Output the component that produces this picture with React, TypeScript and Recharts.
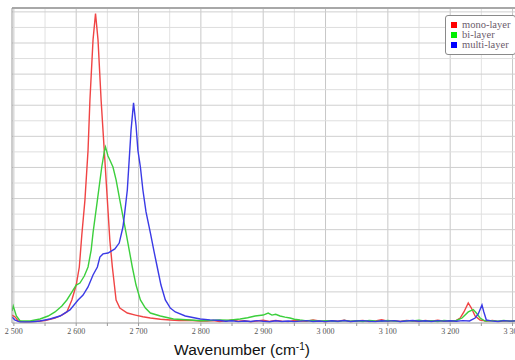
import { LineChart, Line, XAxis, YAxis, CartesianGrid, ReferenceLine, Label } from 'recharts';

// Raman spectra: [wavenumber (cm-1), intensity (a.u.)]
const mono: [number, number][] = [
  [2497, 5.1], [2502, 3.9], [2507, 1.3], [2518, 0.6], [2534, 1.0], [2550, 1.6], [2566, 3.2],
  [2577, 5.1], [2585, 7.1], [2593, 14.8], [2600, 24.4], [2605, 36], [2609, 56.6], [2614, 79],
  [2619, 111], [2622, 143], [2627, 182], [2631, 199], [2635, 182], [2640, 143], [2645, 111],
  [2650, 79], [2654, 53], [2658, 36], [2664, 14.8], [2670, 9.6], [2682, 6.4], [2695, 5.1],
  [2707, 4.0], [2719, 3.2], [2735, 2.4], [2751, 1.9], [2765, 1.5], [2780, 1.8], [2799, 1.3],
  [2810, 1.2], [2820, 1.6], [2830, 0.9], [2840, 1.4], [2850, 2.0], [2860, 1.1], [2870, 1.5],
  [2880, 0.8], [2890, 1.3], [2900, 1.8], [2910, 1.0], [2920, 1.6], [2930, 1.2], [2940, 0.9],
  [2950, 1.7], [2960, 1.3], [2970, 1.1], [2980, 1.9], [2990, 1.4], [3000, 0.8], [3010, 1.5],
  [3020, 1.2], [3030, 1.8], [3040, 1.0], [3050, 1.3], [3060, 1.6], [3070, 0.9], [3080, 1.4],
  [3090, 2.1], [3100, 1.2], [3110, 1.5], [3120, 1.0], [3130, 1.7], [3140, 1.3], [3150, 0.9],
  [3160, 1.6], [3170, 1.2], [3180, 1.8], [3190, 1.1], [3200, 1.4], [3208, 1.3], [3216, 3.2],
  [3222, 7.1], [3229, 12.9], [3234, 9.6], [3240, 4.5], [3248, 1.9], [3258, 1.2], [3268, 1.6],
  [3278, 0.9], [3288, 1.4], [3298, 1.1], [3308, 1.5], [3312, 1.2],
];

const bi: [number, number][] = [
  [2497, 7.7], [2499, 10.9], [2504, 4.5], [2510, 1.3], [2526, 1.3], [2542, 2.6], [2555, 4.5],
  [2566, 7.1], [2577, 10.9], [2585, 14.8], [2593, 19.9], [2600, 24.4], [2606, 25.7], [2613, 30.2],
  [2619, 36], [2624, 46.9], [2627, 57.9], [2634, 79], [2641, 100.3], [2645, 110], [2647, 113.2],
  [2651, 107.4], [2654, 104.8], [2659, 100.3], [2664, 92], [2670, 79], [2680, 57.9], [2690, 36],
  [2696, 24.4], [2703, 14.8], [2711, 9.6], [2719, 6.4], [2735, 4.5], [2756, 2.6], [2783, 1.9],
  [2800, 1.4], [2815, 1.6], [2830, 2.0], [2845, 1.8], [2863, 2.6], [2875, 3.4], [2887, 4.5],
  [2900, 5.1], [2908, 6.4], [2914, 5.1], [2920, 5.6], [2927, 4.5], [2935, 3.8], [2943, 3.2],
  [2950, 2.4], [2959, 1.9], [2970, 1.4], [2980, 1.7], [2990, 1.1], [3000, 1.5], [3010, 1.3],
  [3020, 0.9], [3030, 1.6], [3040, 1.2], [3050, 1.4], [3060, 1.0], [3070, 1.7], [3080, 1.3],
  [3090, 1.1], [3100, 1.6], [3110, 1.2], [3120, 0.9], [3130, 1.5], [3140, 1.3], [3150, 1.8],
  [3160, 1.1], [3170, 1.4], [3180, 1.0], [3190, 1.6], [3200, 1.3], [3210, 1.6], [3219, 3.2],
  [3229, 7.1], [3237, 8.6], [3242, 6.4], [3248, 3.2], [3256, 1.3], [3266, 1.5], [3276, 1.1],
  [3286, 1.6], [3296, 1.2], [3306, 1.4], [3312, 1.3],
];

const multi: [number, number][] = [
  [2497, 3.9], [2502, 1.9], [2510, 0.6], [2526, 0.6], [2542, 1.3], [2558, 2.6], [2574, 4.5],
  [2590, 8.4], [2603, 14.8], [2611, 18], [2619, 23.2], [2627, 30.9], [2634, 36], [2638, 42.4],
  [2643, 44.4], [2651, 45], [2662, 47.6], [2669, 51.4], [2675, 61.7], [2678, 71.4], [2682, 85.5],
  [2685, 104.8], [2688, 124], [2692, 141.5], [2696, 127], [2699, 111], [2703, 100.3], [2707, 85.5],
  [2712, 71.4], [2719, 57.9], [2725, 45.7], [2730, 36], [2736, 24.4], [2743, 14.8], [2751, 9.6],
  [2759, 7.1], [2775, 4.5], [2799, 2.6], [2815, 2.0], [2831, 1.6], [2840, 1.1], [2850, 1.4],
  [2860, 0.9], [2870, 1.3], [2880, 1.0], [2890, 1.5], [2900, 1.1], [2910, 0.8], [2920, 1.4],
  [2930, 1.0], [2940, 1.3], [2950, 0.9], [2960, 1.2], [2970, 1.5], [2980, 1.0], [2990, 1.3],
  [3000, 0.9], [3010, 1.4], [3020, 1.1], [3030, 1.6], [3040, 1.0], [3050, 1.3], [3060, 1.5],
  [3070, 1.1], [3080, 0.9], [3090, 1.4], [3100, 1.2], [3110, 1.5], [3120, 1.0], [3130, 1.3],
  [3140, 1.6], [3150, 1.1], [3160, 1.4], [3170, 1.0], [3180, 1.5], [3190, 1.2], [3200, 1.4],
  [3210, 1.1], [3220, 1.5], [3231, 1.3], [3240, 3.2], [3245, 5.8], [3251, 11.6], [3254, 7.1],
  [3258, 1.9], [3266, 1.4], [3276, 1.0], [3286, 1.5], [3296, 1.2], [3306, 1.4], [3312, 1.1],
];

const xTicks = [2500, 2550, 2600, 2650, 2700, 2750, 2800, 2850, 2900, 2950, 3000, 3050, 3100, 3150, 3200, 3250, 3300];
const xMajor = [2500, 2600, 2700, 2800, 2900, 3000, 3100, 3200, 3300];
const xMinor = [2550, 2650, 2750, 2850, 2950, 3050, 3150, 3250];
const yMajor = [20, 40, 60, 80, 100, 120, 140, 160, 180, 200];
const yMinor = [10, 30, 50, 70, 90, 110, 130, 150, 170, 190];

const series = [
  { name: 'mono-layer', points: mono, line: '#f04444', swatch: '#ff0000' },
  { name: 'bi-layer', points: bi, line: '#3ccf3c', swatch: '#00ee00' },
  { name: 'multi-layer', points: multi, line: '#3a3ae6', swatch: '#0000ff' },
];

const toRows = (pts: [number, number][]) => pts.map(([wn, v]) => ({ wn, v }));

const fmtWn = (v: number) => (v % 100 === 0 ? `${Math.floor(v / 1000)} ${String(v % 1000).padStart(3, '0')}` : '');

function AxisTitle() {
  return (
    <text x={242} y={355} textAnchor="middle" fontFamily="'Liberation Sans', Arial, sans-serif" fontSize={15.5} fill="#111">
      Wavenumber (cm
      <tspan dy={-5} fontSize={10}>-1</tspan>
      <tspan dy={5}>)</tspan>
    </text>
  );
}

function LegendBox() {
  return (
    <div
      style={{
        position: 'absolute',
        left: 445,
        top: 15,
        border: '1px solid #8a8a8a',
        borderRadius: 3,
        background: '#fff',
        padding: '4px 5px 4px 5px',
        fontFamily: "'Liberation Serif', 'DejaVu Serif', serif",
        fontSize: 10.5,
        lineHeight: '10px',
        color: '#6b5b6b',
        whiteSpace: 'nowrap',
      }}
    >
      {series.map((s) => (
        <div key={s.name} style={{ display: 'flex', alignItems: 'center', height: 10 }}>
          <span style={{ width: 6, height: 6, background: s.swatch, marginRight: 5, display: 'inline-block' }} />
          {s.name}
        </div>
      ))}
    </div>
  );
}

export default function App() {
  return (
    <div style={{ position: 'absolute', left: 0, top: 0, width: 515, height: 360, overflow: 'hidden', background: '#fff' }}>
      <LineChart width={530} height={360} margin={{ top: 8, right: 10, left: 0, bottom: 0 }}>
        <CartesianGrid horizontal={false} verticalValues={xMinor} stroke="#e2e2e2" />
        <CartesianGrid horizontal={false} verticalValues={xMajor} stroke="#c8c8c8" />
        {yMinor.map((v) => (
          <ReferenceLine key={`m${v}`} y={v} stroke="#dedede" />
        ))}
        {yMajor.map((v) => (
          <ReferenceLine key={`M${v}`} y={v} stroke="#cfcfcf" />
        ))}
        <XAxis
          type="number"
          dataKey="wn"
          domain={[2497, 3312]}
          ticks={xTicks}
          tickFormatter={fmtWn}
          interval={0}
          allowDataOverflow
          height={37}
          tickSize={3}
          stroke="#9a9a9a"
          tick={{ fontSize: 8, fill: '#555', fontFamily: "'Liberation Serif', 'DejaVu Serif', serif" }}
        >
          <Label content={() => <AxisTitle />} />
        </XAxis>
        <YAxis
          type="number"
          domain={[0, 202.5]}
          ticks={yMajor}
          allowDataOverflow
          width={12}
          tick={false}
          tickSize={3}
          stroke="#9a9a9a"
        />
        <ReferenceLine y={202.5} stroke="#a8a8a8" strokeWidth={2} />
        {series.map((s) => (
          <Line
            key={s.name}
            data={toRows(s.points)}
            dataKey="v"
            name={s.name}
            stroke={s.line}
            strokeWidth={1.4}
            dot={false}
            isAnimationActive={false}
          />
        ))}
      </LineChart>
      <LegendBox />
    </div>
  );
}
